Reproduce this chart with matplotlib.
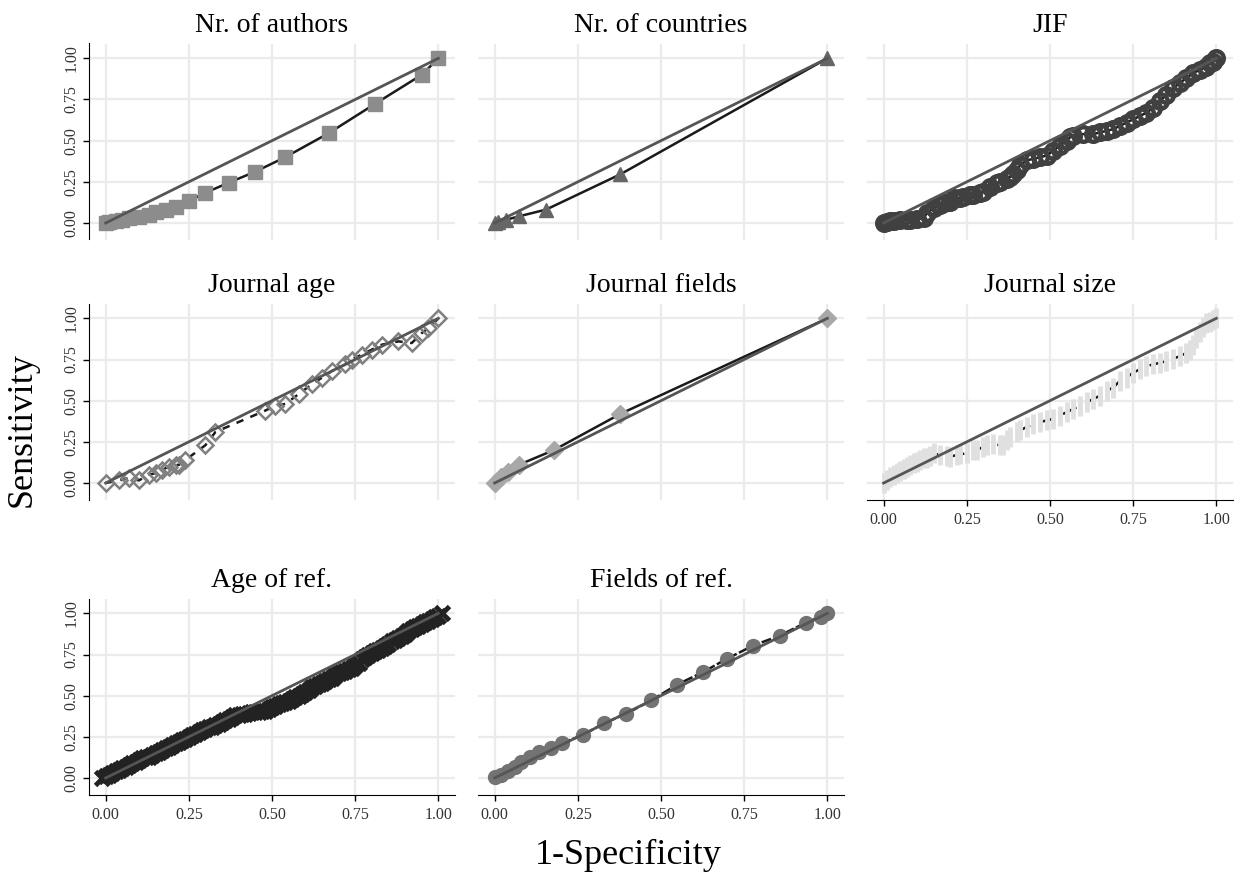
import matplotlib
matplotlib.use("Agg")
import matplotlib.pyplot as plt

plt.rcParams['font.family'] = ['Liberation Serif', 'DejaVu Serif']

# ---- data ----
titles = ["Nr. of authors", "Nr. of countries", "JIF",
          "Journal age", "Journal fields", "Journal size",
          "Age of ref.", "Fields of ref."]

ticks = [0.0, 0.25, 0.5, 0.75, 1.0]
tick_labels = ["0.00", "0.25", "0.50", "0.75", "1.00"]

x_authors = [0.00, 0.01, 0.03, 0.05, 0.07, 0.10, 0.13, 0.15, 0.18, 0.21,
             0.25, 0.30, 0.37, 0.45, 0.54, 0.67, 0.81, 0.95, 1.00]
y_authors = [0.00, 0.005, 0.01, 0.02, 0.03, 0.035, 0.047, 0.065, 0.082, 0.10,
             0.133, 0.184, 0.245, 0.312, 0.40, 0.545, 0.724, 0.90, 1.00]

x_countries = [0.00, 0.01, 0.035, 0.072, 0.155, 0.378, 1.00]
y_countries = [0.00, 0.005, 0.02, 0.04, 0.082, 0.296, 1.00]

x_jif = [0.00, 0.01, 0.02, 0.03, 0.05, 0.07, 0.08, 0.10, 0.12, 0.13,
         0.15, 0.17, 0.18, 0.20, 0.21, 0.23, 0.24, 0.26, 0.27, 0.29,
         0.30, 0.32, 0.34, 0.35, 0.37, 0.38, 0.39, 0.40, 0.41, 0.43,
         0.45, 0.47, 0.49, 0.51, 0.53, 0.55, 0.56, 0.57, 0.60, 0.63,
         0.65, 0.67, 0.69, 0.71, 0.73, 0.75, 0.77, 0.79, 0.81, 0.83,
         0.85, 0.87, 0.89, 0.91, 0.93, 0.95, 0.97, 0.98, 0.99, 1.00]
y_jif = [0.00, 0.005, 0.01, 0.015, 0.02, 0.02, 0.02, 0.025, 0.03, 0.06,
         0.09, 0.11, 0.12, 0.13, 0.15, 0.15, 0.16, 0.17, 0.17, 0.18,
         0.19, 0.22, 0.24, 0.25, 0.27, 0.28, 0.30, 0.32, 0.35, 0.38,
         0.39, 0.40, 0.41, 0.44, 0.47, 0.50, 0.52, 0.53, 0.54, 0.54,
         0.55, 0.56, 0.57, 0.59, 0.61, 0.63, 0.65, 0.67, 0.70, 0.74,
         0.78, 0.82, 0.85, 0.88, 0.91, 0.93, 0.95, 0.97, 0.98, 1.00]

x_jage = [0.00, 0.04, 0.07, 0.10, 0.13, 0.15, 0.17, 0.19, 0.21, 0.22,
          0.24, 0.30, 0.33, 0.48, 0.51, 0.54, 0.58, 0.62, 0.65, 0.68,
          0.72, 0.74, 0.77, 0.80, 0.83, 0.88, 0.92, 0.95, 0.97, 1.00]
y_jage = [0.00, 0.016, 0.03, 0.016, 0.05, 0.06, 0.08, 0.10, 0.11, 0.11,
          0.14, 0.23, 0.31, 0.44, 0.47, 0.48, 0.54, 0.60, 0.64, 0.68,
          0.72, 0.75, 0.78, 0.81, 0.84, 0.86, 0.85, 0.91, 0.94, 1.00]

x_jfields = [0.00, 0.02, 0.04, 0.072, 0.178, 0.378, 1.00]
y_jfields = [0.00, 0.035, 0.067, 0.11, 0.20, 0.42, 1.00]

x_jsize = [0.00, 0.01, 0.02, 0.03, 0.04, 0.05, 0.06, 0.07, 0.08, 0.09,
           0.10, 0.11, 0.12, 0.13, 0.14, 0.15, 0.17, 0.19, 0.20, 0.22,
           0.23, 0.25, 0.27, 0.28, 0.30, 0.31, 0.33, 0.35, 0.36, 0.37,
           0.38, 0.40, 0.41, 0.43, 0.45, 0.47, 0.49, 0.51, 0.53, 0.55,
           0.57, 0.59, 0.61, 0.63, 0.65, 0.67, 0.69, 0.71, 0.73, 0.75,
           0.77, 0.79, 0.81, 0.83, 0.85, 0.87, 0.89, 0.91, 0.92, 0.93,
           0.94, 0.95, 0.96, 0.97, 0.98, 0.99, 1.00]
y_jsize = [0.00, 0.02, 0.035, 0.05, 0.06, 0.075, 0.085, 0.095, 0.11, 0.12,
           0.13, 0.14, 0.15, 0.155, 0.165, 0.18, 0.17, 0.165, 0.16, 0.17,
           0.175, 0.18, 0.20, 0.20, 0.22, 0.23, 0.235, 0.23, 0.23, 0.26,
           0.28, 0.31, 0.32, 0.34, 0.36, 0.37, 0.38, 0.39, 0.41, 0.43,
           0.45, 0.47, 0.49, 0.51, 0.53, 0.56, 0.58, 0.62, 0.64, 0.67,
           0.69, 0.71, 0.72, 0.73, 0.74, 0.755, 0.77, 0.79, 0.81, 0.84,
           0.88, 0.92, 0.95, 0.97, 0.98, 0.99, 1.00]

x_ageref = [-0.01, 0.00, 0.01, 0.02, 0.03, 0.04, 0.05, 0.06, 0.07, 0.08,
            0.09, 0.10, 0.11, 0.12, 0.13, 0.14, 0.15, 0.16, 0.17, 0.18,
            0.19, 0.20, 0.21, 0.22, 0.23, 0.24, 0.25, 0.26, 0.27, 0.28,
            0.29, 0.30, 0.31, 0.32, 0.33, 0.34, 0.35, 0.36, 0.37, 0.38,
            0.39, 0.40, 0.41, 0.42, 0.43, 0.44, 0.45, 0.46, 0.47, 0.48,
            0.49, 0.50, 0.51, 0.52, 0.53, 0.54, 0.55, 0.56, 0.57, 0.58,
            0.59, 0.60, 0.61, 0.62, 0.63, 0.64, 0.65, 0.66, 0.67, 0.68,
            0.69, 0.70, 0.71, 0.72, 0.73, 0.74, 0.75, 0.76, 0.77, 0.78,
            0.79, 0.80, 0.81, 0.82, 0.83, 0.84, 0.85, 0.86, 0.87, 0.88,
            0.89, 0.90, 0.91, 0.92, 0.93, 0.94, 0.95, 0.96, 0.97, 0.98,
            0.99, 1.00, 1.01]
y_ageref = [0.00, 0.01, 0.02, 0.03, 0.04, 0.05, 0.06, 0.07, 0.08, 0.09,
            0.10, 0.11, 0.12, 0.13, 0.13, 0.14, 0.15, 0.16, 0.17, 0.18,
            0.19, 0.20, 0.21, 0.22, 0.23, 0.24, 0.25, 0.26, 0.27, 0.28,
            0.29, 0.30, 0.31, 0.31, 0.32, 0.33, 0.34, 0.35, 0.36, 0.37,
            0.38, 0.385, 0.39, 0.39, 0.395, 0.40, 0.40, 0.40, 0.405, 0.41,
            0.42, 0.43, 0.44, 0.45, 0.455, 0.46, 0.47, 0.48, 0.49, 0.50,
            0.51, 0.52, 0.535, 0.55, 0.56, 0.57, 0.58, 0.59, 0.60, 0.61,
            0.625, 0.64, 0.645, 0.65, 0.66, 0.67, 0.685, 0.70, 0.72, 0.735,
            0.75, 0.76, 0.77, 0.78, 0.79, 0.80, 0.815, 0.83, 0.84, 0.85,
            0.86, 0.875, 0.89, 0.905, 0.915, 0.925, 0.935, 0.945, 0.955, 0.965,
            0.975, 0.985, 1.00]

x_fref = [0.00, 0.02, 0.04, 0.06, 0.08, 0.105, 0.132, 0.168, 0.203, 0.267,
          0.329, 0.395, 0.471, 0.547, 0.627, 0.697, 0.777, 0.857, 0.935, 0.98, 1.00]
y_fref = [0.005, 0.02, 0.04, 0.067, 0.10, 0.125, 0.158, 0.182, 0.212, 0.263,
          0.333, 0.39, 0.471, 0.566, 0.644, 0.723, 0.804, 0.865, 0.943, 0.98, 1.00]

xs = [x_authors, x_countries, x_jif, x_jage, x_jfields, x_jsize, x_ageref, x_fref]
ys = [y_authors, y_countries, y_jif, y_jage, y_jfields, y_jsize, y_ageref, y_fref]

# marker, face, edge, size, edge width, line style
styles = [
    dict(marker='s', mfc='#8c8c8c', mec='#8c8c8c', ms=10, mew=1, ls='-'),
    dict(marker='^', mfc='#666666', mec='#666666', ms=10, mew=1, ls='-'),
    dict(marker='o', mfc='none', mec='#404040', ms=10.5, mew=3.2, ls='-'),
    dict(marker='D', mfc='none', mec='#808080', ms=8.5, mew=1.8, ls=(0, (3, 3))),
    dict(marker='D', mfc='#a8a8a8', mec='#a8a8a8', ms=9, mew=1, ls='-'),
    dict(marker='|', mfc='#e0e0e0', mec='#e0e0e0', ms=14, mew=3.5, ls=(0, (6, 4))),
    dict(marker='x', mfc='#222222', mec='#222222', ms=10, mew=3.5, ls='-'),
    dict(marker='o', mfc='#737373', mec='#737373', ms=10, mew=1, ls=(0, (4, 1))),
]

W, H = 1247, 875
fig = plt.figure(figsize=(W / 100, H / 100), dpi=100)

col_left = [89, 478, 867]
row_bottom = [239.5, 499.5, 794.5]
ax_w = 366
ax_h = 196

for i, title in enumerate(titles):
    r, c = divmod(i, 3)
    ax = fig.add_axes([col_left[c] / W, 1 - row_bottom[r] / H, ax_w / W, ax_h / H])
    ax.set_xlim(-0.05, 1.05)
    ax.set_ylim(-0.1, 1.09)
    ax.set_xticks(ticks)
    ax.set_yticks(ticks)
    ax.grid(True, color='#ebebeb', lw=1.6)
    ax.set_axisbelow(True)
    for s in ax.spines.values():
        s.set_visible(False)

    st = styles[i]
    ax.plot(xs[i], ys[i], color='#1a1a1a', lw=1.8, ls=st['ls'], zorder=2)
    ax.plot(xs[i], ys[i], ls='none', marker=st['marker'], mfc=st['mfc'],
            mec=st['mec'], ms=st['ms'], mew=st['mew'], zorder=3)
    ax.plot([0, 1], [0, 1], color='#555555', lw=2, zorder=4)

    ax.set_title(title, fontsize=20, pad=8)

    left = c == 0
    bottom = r == 2 or (r == 1 and c == 2)
    if left:
        ax.spines['left'].set_visible(True)
        ax.spines['left'].set_color('black')
        ax.set_yticklabels(tick_labels, rotation=90, va='center', fontsize=11.5, color='#333333')
        ax.tick_params(axis='y', length=4, width=1, color='black', pad=3)
    else:
        ax.tick_params(axis='y', length=0, labelleft=False)
    if bottom:
        ax.spines['bottom'].set_visible(True)
        ax.spines['bottom'].set_color('black')
        ax.set_xticklabels(tick_labels, fontsize=11.5, color='#333333')
        ax.tick_params(axis='x', length=4, width=1, color='black', pad=5)
    else:
        ax.tick_params(axis='x', length=0, labelbottom=False)

fig.text(628 / W, 1 - 855 / H, "1-Specificity", fontsize=26, ha='center', va='center')
fig.text(22 / W, 1 - 430 / H, "Sensitivity", fontsize=26, ha='center', va='center', rotation=90)

fig.savefig("out.png", dpi=100)
